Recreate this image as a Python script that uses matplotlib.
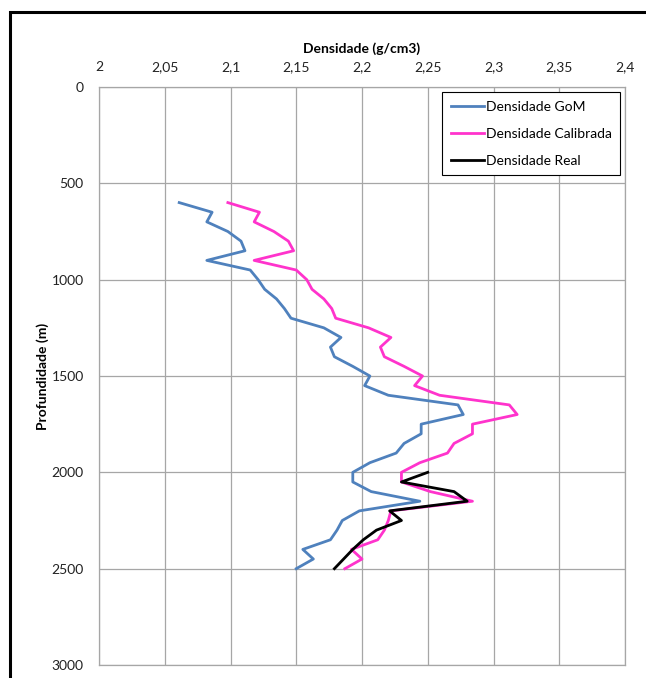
import matplotlib.pyplot as plt
from matplotlib.patches import Rectangle

plt.rcParams['font.family'] = ['Lato', 'DejaVu Sans']

# profundidade (m)
prof = [600, 650, 700, 750, 800, 850, 900, 950, 1000, 1050, 1100, 1150, 1200,
        1250, 1300, 1350, 1400, 1450, 1500, 1550, 1600, 1650, 1700, 1750, 1800,
        1850, 1900, 1950, 2000, 2050, 2100, 2150, 2200, 2250, 2300, 2350, 2400,
        2450, 2500]

dens_gom = [2.061, 2.086, 2.082, 2.098, 2.108, 2.111, 2.082, 2.115, 2.121, 2.126,
            2.135, 2.141, 2.146, 2.171, 2.184, 2.176, 2.179, 2.193, 2.206, 2.202,
            2.220, 2.273, 2.277, 2.245, 2.245, 2.232, 2.226, 2.206, 2.193, 2.193,
            2.207, 2.244, 2.198, 2.185, 2.181, 2.176, 2.155, 2.163, 2.150]

dens_cal = [2.098, 2.122, 2.118, 2.133, 2.144, 2.148, 2.118, 2.150, 2.158, 2.162,
            2.171, 2.177, 2.180, 2.205, 2.222, 2.214, 2.217, 2.232, 2.246, 2.240,
            2.259, 2.312, 2.318, 2.284, 2.284, 2.270, 2.265, 2.244, 2.230, 2.230,
            2.252, 2.284, 2.222, 2.220, 2.217, 2.212, 2.192, 2.200, 2.187]

prof_real = [2000, 2050, 2100, 2150, 2200, 2250, 2300, 2350, 2400, 2450, 2500]
dens_real = [2.250, 2.230, 2.270, 2.280, 2.221, 2.230, 2.211, 2.201, 2.193, 2.186, 2.179]

xticks = [2.0, 2.05, 2.1, 2.15, 2.2, 2.25, 2.3, 2.35, 2.4]
xlabels = ['2', '2,05', '2,1', '2,15', '2,2', '2,25', '2,3', '2,35', '2,4']
yticks = [0, 500, 1000, 1500, 2000, 2500, 3000]

W, H = 646, 678
fig = plt.figure(figsize=(W / 100, H / 100), dpi=100)
ax = fig.add_axes([99 / W, 1 - 665 / H, 526 / W, 578 / H])

# borda do grafico (estilo Excel)
fig.patches.append(Rectangle((10 / W, -0.1), 1.2, 1 - 12 / H + 0.1,
                             transform=fig.transFigure, fill=False,
                             edgecolor='black', linewidth=2.2))

ax.plot(dens_gom, prof, color='#4F81BD', lw=2, label='Densidade GoM')
ax.plot(dens_cal, prof, color='#FF33CC', lw=2, label='Densidade Calibrada')
ax.plot(dens_real, prof_real, color='black', lw=2, label='Densidade Real')

ax.set_xlim(2.0, 2.4)
ax.set_ylim(3000, 0)
ax.set_xticks(xticks)
ax.set_xticklabels(xlabels)
ax.set_yticks(yticks)
ax.xaxis.tick_top()
ax.xaxis.set_label_position('top')
ax.tick_params(length=0, labelsize=10, colors='#222222')
ax.tick_params(axis='x', pad=10)
ax.tick_params(axis='y', pad=11)
ax.grid(True, color='#A6A6A6', lw=0.9)
ax.set_axisbelow(True)
for s in ax.spines.values():
    s.set_color('#A6A6A6')
    s.set_linewidth(0.9)

ax.set_xlabel('Densidade (g/cm3)', fontsize=10, fontweight='bold', labelpad=6)
ax.set_ylabel('Profundidade (m)', fontsize=10, fontweight='bold')
ax.yaxis.set_label_coords(-50 / 526, 0.5)

leg = ax.legend(loc='upper right', bbox_to_anchor=(0.99, 0.991), fancybox=False,
                edgecolor='black', framealpha=1, borderaxespad=0, fontsize=10,
                handlelength=2.4, handletextpad=0.1, labelspacing=1.1,
                borderpad=0.6)
leg.get_frame().set_linewidth(0.8)

fig.savefig('out.png', dpi=100)
